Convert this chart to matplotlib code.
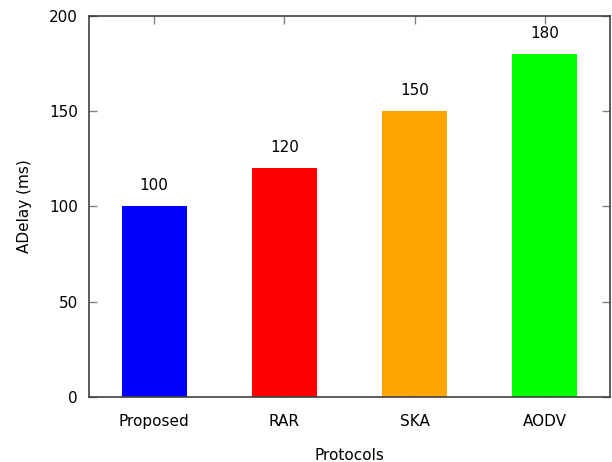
import matplotlib

matplotlib.use("Agg")
import matplotlib.pyplot as plt

protocols = ["Proposed", "RAR", "SKA", "AODV"]
delays = [100, 120, 150, 180]
bar_colors = ["#0000ff", "#ff0000", "#ffa500", "#00ff00"]
y_ticks = [0, 50, 100, 150, 200]

plt.rcParams["font.family"] = ["DejaVu Sans"]
plt.rcParams["font.size"] = 11

fig = plt.figure(figsize=(6.12, 4.62), dpi=100)
ax = fig.add_axes([0.1454, 0.1407, 0.8513, 0.8247])
ax.set_axisbelow(True)

xs = list(range(len(protocols)))
ax.bar(xs, delays, width=0.5, color=bar_colors, linewidth=0, zorder=2)
for x, value in zip(xs, delays):
    ax.annotate(
        f"{value}",
        xy=(x, value),
        xytext=(0, 15),
        textcoords="offset points",
        ha="center",
        va="center",
    )

ax.set_xlim(-0.5, len(protocols) - 0.5)
ax.set_ylim(0, 200)
ax.set_xticks(xs)
ax.set_xticklabels(protocols)
ax.set_yticks(y_ticks)
ax.tick_params(
    direction="in",
    length=6,
    width=1,
    color="#808080",
    top=True,
    right=True,
)
ax.tick_params(axis="x", pad=12)
ax.tick_params(axis="y", pad=8)
for spine in ax.spines.values():
    spine.set_color("#404040")
    spine.set_linewidth(1.2)
    spine.set_zorder(3)

ax.set_xlabel("Protocols", labelpad=14)
ax.set_ylabel("ADelay (ms)", labelpad=12)

fig.savefig("out.png", dpi=100)
plt.close(fig)
